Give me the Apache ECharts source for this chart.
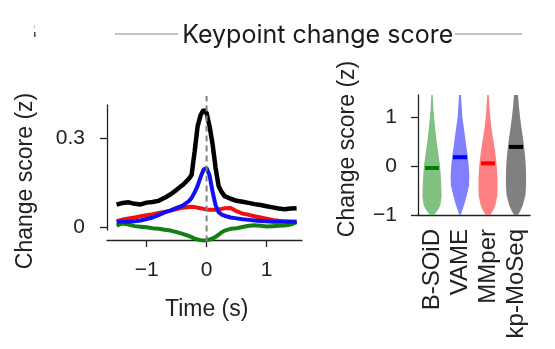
<!DOCTYPE html>
<html>
<head>
<meta charset="utf-8">
<script src="https://cdn.jsdelivr.net/npm/echarts@6/dist/echarts.min.js"></script>
<style>html,body{margin:0;padding:0;background:#fff;}#c{width:555px;height:349px;}</style>
</head>
<body>
<div id="c"></div>
<script>
// ---- Left panel data: mean change score around transitions ----
const timeSec = [-1.5,-1.4,-1.3,-1.2,-1.1,-1.0,-0.9,-0.8,-0.7,-0.6,-0.5,-0.4,-0.3,-0.25,-0.2,-0.15,-0.1,-0.05,0,0.05,0.1,0.15,0.2,0.25,0.3,0.4,0.5,0.6,0.7,0.8,0.9,1.0,1.1,1.2,1.3,1.4,1.5];
const kpMoSeqTrace = [0.077,0.083,0.085,0.080,0.078,0.084,0.086,0.090,0.100,0.112,0.127,0.143,0.163,0.177,0.255,0.340,0.378,0.396,0.385,0.340,0.280,0.200,0.140,0.120,0.106,0.097,0.090,0.087,0.083,0.079,0.076,0.072,0.068,0.064,0.062,0.064,0.065];
const vameTrace = [0.020,0.020,0.020,0.021,0.024,0.029,0.034,0.042,0.051,0.058,0.066,0.074,0.088,0.100,0.118,0.140,0.170,0.195,0.200,0.175,0.120,0.075,0.052,0.044,0.040,0.034,0.031,0.028,0.026,0.024,0.022,0.021,0.020,0.020,0.020,0.020,0.020];
const mmperTrace = [0.022,0.027,0.031,0.034,0.038,0.042,0.045,0.049,0.053,0.057,0.062,0.067,0.069,0.070,0.069,0.067,0.065,0.063,0.061,0.060,0.060,0.060,0.061,0.063,0.065,0.066,0.055,0.047,0.043,0.038,0.034,0.030,0.026,0.023,0.021,0.020,0.020];
const bsoidTrace = [0.007,0.014,0.010,0.005,0.003,0.001,-0.002,-0.004,-0.007,-0.010,-0.015,-0.021,-0.028,-0.032,-0.037,-0.040,-0.042,-0.043,-0.042,-0.040,-0.036,-0.031,-0.024,-0.016,-0.010,-0.004,-0.002,0.002,0.006,0.008,0.006,0.004,0.005,0.006,0.007,0.010,0.018];
const markerLine = [[0,-0.047],[0,0.442]];
const leftXTicks = [-1,0,1];
const leftYTicks = [0,0.3];

// ---- Right panel data: violin distributions ----
const methods = ['B-SOiD','VAME','MMper','kp-MoSeq'];
const medians = [-0.04,0.18,0.055,0.39];
const violinLevels = [1.45,1.2,1.0,0.8,0.6,0.4,0.2,0,-0.2,-0.4,-0.6,-0.8,-0.9,-1.0];
const densBsoid = [0.07,0.13,0.20,0.30,0.40,0.53,0.67,0.80,0.87,0.92,0.95,0.83,0.58,0.20];
const densVame  = [0.10,0.17,0.23,0.37,0.50,0.63,0.77,0.87,0.93,0.90,0.67,0.40,0.23,0.07];
const densMmper = [0.08,0.15,0.22,0.33,0.47,0.63,0.77,0.87,0.93,0.95,0.93,0.73,0.53,0.23];
const densKpms  = [0.20,0.30,0.40,0.53,0.67,0.80,0.90,0.97,1.00,1.00,0.93,0.67,0.47,0.20];
const rightYTicks = [-1,0,1];

const violinDensity = [densBsoid, densVame, densMmper, densKpms];
const violinColors = ['#80c080','#8080ff','#ff8080','#808080'];
const medianColors = ['#008000','#0000ff','#ff0000','#000000'];

const tickFont = 'Liberation Sans, Arial, sans-serif';
const fmtMinus = v => (v < 0 ? '\u2212' + Math.abs(v) : String(v));

function pairs(xs, ys){ return xs.map((x,i)=>[x, ys[i]]); }

function renderViolin(params, api){
  const i = params.dataIndex;
  const dens = violinDensity[i];
  const band = api.size([1,0])[0];
  const maxW = band*0.72;
  const left = [], right = [];
  for (let k=0;k<violinLevels.length;k++){
    const p = api.coord([i, violinLevels[k]]);
    const hw = dens[k]*maxW/2;
    left.push([p[0]-hw, p[1]]);
    right.unshift([p[0]+hw, p[1]]);
  }
  const m = api.coord([i, api.value(1)]);
  const mw = band*0.5;
  return {type:'group', children:[
    {type:'polygon', shape:{points:left.concat(right)}, style:{fill:violinColors[i]}},
    {type:'rect', shape:{x:m[0]-mw/2, y:m[1]-2, width:mw, height:4}, style:{fill:medianColors[i]}}
  ]};
}

const axisLine = {show:true, onZero:false, lineStyle:{color:'#222', width:1.3}};
const axisTickStyle = {lineStyle:{color:'#222', width:1.3}};

const chart = echarts.init(document.getElementById('c'), null, {renderer:'canvas'});
chart.setOption({
  animation:false,
  backgroundColor:'#fff',
  grid:[
    {left:107, top:105, width:195, height:125, containLabel:false, outerBoundsMode:'none'},
    {left:418, top:95, width:112, height:120, containLabel:false, outerBoundsMode:'none'}
  ],
  xAxis:[
    {type:'value', gridIndex:0, min:-1.66, max:1.59, offset:10,
     axisLine:axisLine, splitLine:{show:false},
     axisTick:{show:true, length:7, customValues:leftXTicks, ...axisTickStyle},
     axisLabel:{customValues:leftXTicks, formatter:fmtMinus, margin:20, color:'#222', fontSize:21, fontFamily:tickFont}},
    {type:'category', gridIndex:1, data:methods, boundaryGap:true,
     axisLine:axisLine, axisTick:{show:false},
     axisLabel:{interval:0, rotate:90, margin:14, color:'#222', fontSize:24, fontFamily:tickFont}}
  ],
  yAxis:[
    {type:'value', gridIndex:0, min:-0.008, max:0.412,
     axisLine:axisLine, splitLine:{show:false},
     axisTick:{show:true, length:7, customValues:leftYTicks, ...axisTickStyle},
     axisLabel:{customValues:leftYTicks, margin:22, color:'#222', fontSize:21, fontFamily:tickFont}},
    {type:'value', gridIndex:1, min:-1, max:1.45,
     axisLine:axisLine, splitLine:{show:false},
     axisTick:{show:true, length:7, customValues:rightYTicks, ...axisTickStyle},
     axisLabel:{customValues:rightYTicks, formatter:fmtMinus, margin:21, color:'#222', fontSize:21, fontFamily:tickFont}}
  ],
  series:[
    {type:'line', xAxisIndex:0, yAxisIndex:0, data:pairs(timeSec,bsoidTrace), showSymbol:false, clip:false,
     lineStyle:{color:'#108010', width:4}, z:2},
    {type:'line', xAxisIndex:0, yAxisIndex:0, data:pairs(timeSec,mmperTrace), showSymbol:false, clip:false,
     lineStyle:{color:'#f01010', width:4}, z:3},
    {type:'line', xAxisIndex:0, yAxisIndex:0, data:pairs(timeSec,vameTrace), showSymbol:false, clip:false,
     lineStyle:{color:'#1010f0', width:4}, z:4},
    {type:'line', xAxisIndex:0, yAxisIndex:0, data:pairs(timeSec,kpMoSeqTrace), showSymbol:false, clip:false,
     lineStyle:{color:'#000', width:4.5}, z:5},
    {type:'line', xAxisIndex:0, yAxisIndex:0, data:markerLine, showSymbol:false, clip:false,
     lineStyle:{color:'#808080', width:2, type:[6,4]}, z:6},
    {type:'custom', xAxisIndex:1, yAxisIndex:1, renderItem:renderViolin, clip:false,
     data:methods.map((m,i)=>[i, medians[i]]), encode:{x:0, y:1}}
  ],
  graphic:[
    {type:'line', shape:{x1:115, y1:34, x2:178, y2:34}, style:{stroke:'#b0b0b0', lineWidth:1.5}},
    {type:'line', shape:{x1:455, y1:34, x2:522, y2:34}, style:{stroke:'#b0b0b0', lineWidth:1.5}},
    {type:'text', x:317.7, y:35, style:{text:'Keypoint change score', fill:'#1a1a1a', font:'25px Inter', textAlign:'center', textVerticalAlign:'middle'}},
    {type:'rect', shape:{x:34, y:32, width:1.5, height:5}, style:{fill:'#444'}},
    {type:'rect', shape:{x:34, y:25, width:1, height:3}, style:{fill:'#bbb'}},
    {type:'text', x:26, y:181, rotation:Math.PI/2, style:{text:'Change score (z)', fill:'#222', font:'23px "Liberation Sans"', textAlign:'center', textVerticalAlign:'middle'}},
    {type:'text', x:206.7, y:310, style:{text:'Time (s)', fill:'#222', font:'23px "Liberation Sans"', textAlign:'center', textVerticalAlign:'middle'}},
    {type:'text', x:348, y:149, rotation:Math.PI/2, style:{text:'Change score (z)', fill:'#222', font:'23px "Liberation Sans"', textAlign:'center', textVerticalAlign:'middle'}}
  ]
});
</script>
</body>
</html>
